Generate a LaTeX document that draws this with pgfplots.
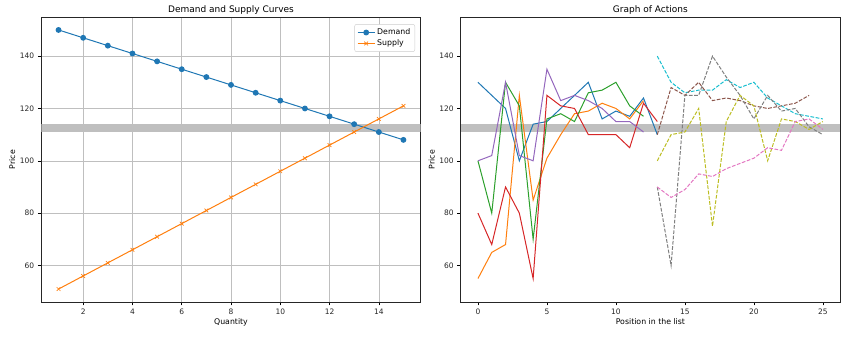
\documentclass[border=0pt]{standalone}
\usepackage{pgfplots}
\pgfplotsset{compat=1.18}
\usetikzlibrary{calc}
\usepackage{fontspec}
\setmainfont{DejaVu Sans}
\definecolor{c0}{HTML}{1F77B4}
\definecolor{c1}{HTML}{FF7F0E}
\definecolor{c2}{HTML}{2CA02C}
\definecolor{c3}{HTML}{D62728}
\definecolor{c4}{HTML}{9467BD}
\definecolor{c5}{HTML}{8C564B}
\definecolor{c6}{HTML}{E377C2}
\definecolor{c7}{HTML}{7F7F7F}
\definecolor{c8}{HTML}{BCBD22}
\definecolor{c9}{HTML}{17BECF}
\definecolor{band}{HTML}{BFBFBF}
\pgfplotsset{
  common/.style={
    anchor=south west, scale only axis,
    width=379.4pt, height=285pt,
    ymin=46.05, ymax=154.95,
    ytick={60,80,100,120,140},
    tick pos=left, tick align=outside,
    major tick length=3.5pt,
    every tick/.style={black, line width=0.6pt},
    axis line style={line width=0.8pt, black!85},
    tick label style={font=\fontsize{7.5}{9}\selectfont, black!85},
    /pgf/number format/assume math mode=true,
    every axis title/.style={at={(0.5,1)}, anchor=base, yshift=4.5pt, font=\fontsize{9}{11}\selectfont},
    every axis x label/.style={at={(axis description cs:0.5,0)}, anchor=north, yshift=-13pt, font=\fontsize{7.8}{9}\selectfont},
    every axis y label/.style={at={($(axis description cs:0,0.5)+(-29pt,0)$)}, anchor=center, rotate=90, font=\fontsize{7.8}{9}\selectfont},
  }
}
\begin{document}
\begin{tikzpicture}[x=1pt,y=1pt]
\useasboundingbox (0,0) rectangle (855,340);
\begin{axis}[common, at={(41.3pt,38pt)},
  xmin=0.3, xmax=15.7, xtick={2,4,6,8,10,12,14},
  grid=major, grid style={black!25, line width=0.6pt},
  title={Demand and Supply Curves}, xlabel={Quantity}, ylabel={Price},
  legend style={at={(0.985,0.975)}, anchor=north east, font=\fontsize{7.8}{9}\selectfont,
    draw=black!20, rounded corners=2pt, inner sep=2.5pt, row sep=-0.5pt,
    cells={anchor=west}},
  legend cell align=left]
\addplot[fill=band, draw=none, forget plot] coordinates {(0.3,111) (15.7,111) (15.7,114) (0.3,114)} -- cycle;
\addplot[c0, line width=1pt, mark=*, mark size=2.4pt, mark options={solid}] coordinates {
(1,150) (2,147) (3,144) (4,141) (5,138) (6,135) (7,132) (8,129) (9,126) (10,123) (11,120) (12,117) (13,114) (14,111) (15,108)};
\addlegendentry{Demand}
\addplot[c1, line width=1pt, mark=x, mark size=2.6pt, mark options={solid, line width=0.7pt}] coordinates {
(1,51) (2,56) (3,61) (4,66) (5,71) (6,76) (7,81) (8,86) (9,91) (10,96) (11,101) (12,106) (13,111) (14,116) (15,121)};
\addlegendentry{Supply}
\end{axis}
\begin{axis}[common, at={(460.7pt,38pt)},
  xmin=-1.25, xmax=26.25, xtick={0,5,10,15,20,25},
  title={Graph of Actions}, xlabel={Position in the list}, ylabel={Price}]
\addplot[fill=band, draw=none] coordinates {(-1.25,111) (26.25,111) (26.25,114) (-1.25,114)} -- cycle;
\addplot[c0, line width=1pt] coordinates {(0,130) (1,125) (2,120) (3,100) (4,114) (5,115) (6,120) (7,125) (8,130) (9,116) (10,119) (11,117) (12,124) (13,110)};
\addplot[c1, line width=1pt] coordinates {(0,55) (1,65) (2,68) (3,125) (4,85) (5,101) (6,110) (7,118) (8,119) (9,122) (10,120) (11,116) (12,123)};
\addplot[c2, line width=1pt] coordinates {(0,100) (1,80) (2,130) (3,121) (4,70) (5,116) (6,118) (7,115) (8,126) (9,127) (10,130) (11,121) (12,117)};
\addplot[c3, line width=1pt] coordinates {(0,80) (1,68) (2,90) (3,80) (4,55) (5,125) (6,121) (7,120) (8,110) (9,110) (10,110) (11,105) (12,122) (13,115)};
\addplot[c4, line width=1pt] coordinates {(0,100) (1,102) (2,130) (3,102) (4,100) (5,135) (6,123) (7,125) (8,123) (9,120) (10,115) (11,115) (12,111)};
\addplot[c9, line width=1pt, dash pattern=on 3.7pt off 1.6pt] coordinates {(13,140) (14,130) (15,126) (16,127) (17,127) (18,131) (19,128) (20,130) (21,124) (22,121) (23,118) (24,117) (25,116)};
\addplot[c5, line width=1pt, dash pattern=on 3.7pt off 1.6pt] coordinates {(13,110) (14,128) (15,125) (16,130) (17,123) (18,124) (19,123) (20,121) (21,120) (22,121) (23,122) (24,125)};
\addplot[c7, line width=1pt, dash pattern=on 3.7pt off 1.6pt] coordinates {(13,90) (14,60) (15,125) (16,125) (17,140) (18,132) (19,125) (20,116) (21,125) (22,119) (23,120) (24,113) (25,110)};
\addplot[c8, line width=1pt, dash pattern=on 3.7pt off 1.6pt] coordinates {(13,100) (14,110) (15,111) (16,120) (17,75) (18,115) (19,125) (20,121) (21,100) (22,116) (23,115) (24,112) (25,115)};
\addplot[c6, line width=1pt, dash pattern=on 3.7pt off 1.6pt] coordinates {(13,90) (14,86) (15,89) (16,95) (17,94) (18,97) (19,99) (20,101) (21,105) (22,104) (23,115) (24,116) (25,112)};
\end{axis}
\end{tikzpicture}
\end{document}
